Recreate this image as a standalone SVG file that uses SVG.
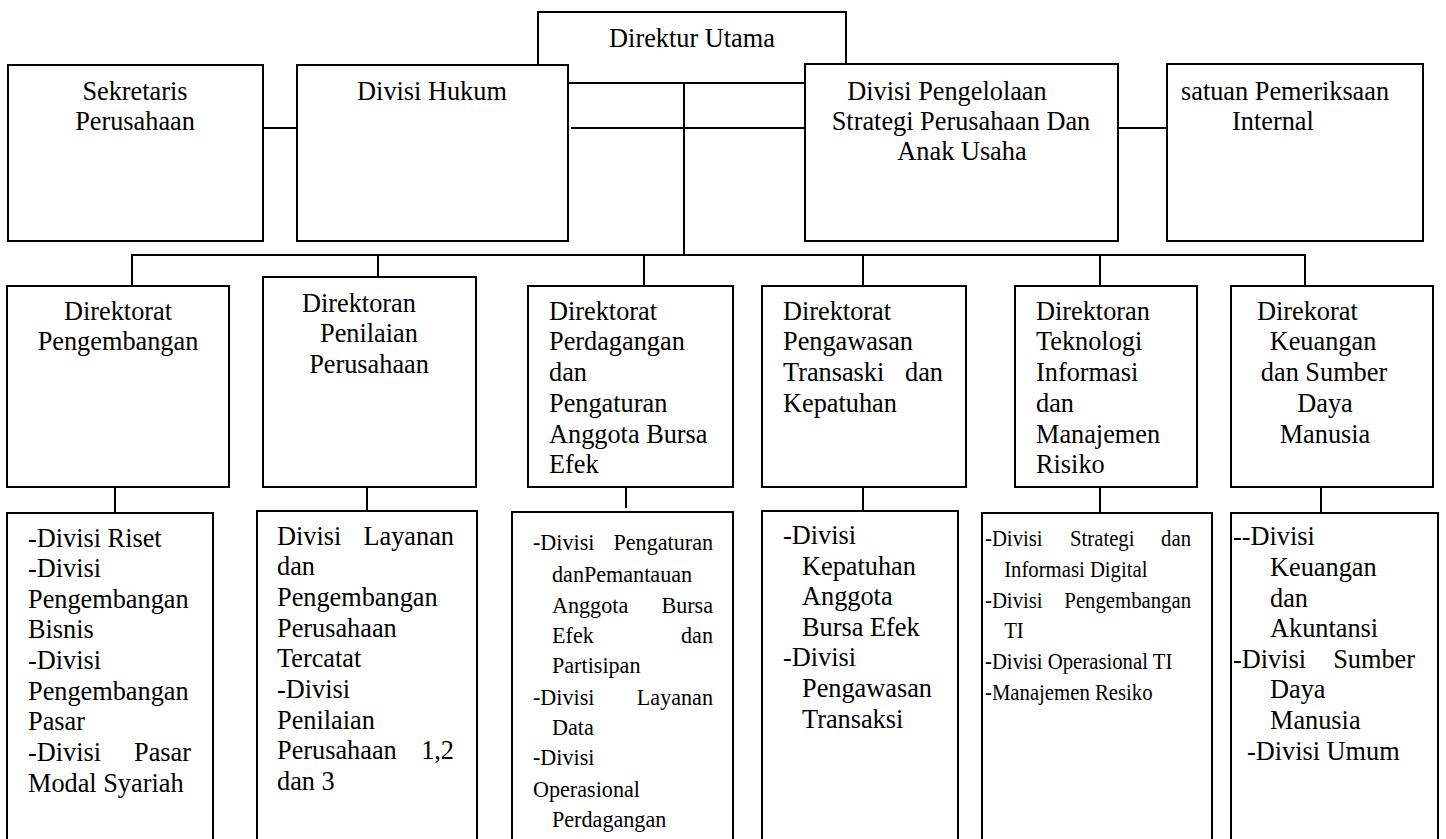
<svg xmlns="http://www.w3.org/2000/svg" width="1446" height="839" viewBox="0 0 1446 839">
<style>
rect.box { fill: #fff; stroke: #000; stroke-width: 2; }
line { stroke: #000; stroke-width: 2; }
text { font-family: "Liberation Serif", "Times New Roman", serif; font-size: 26.3px; fill: #000; }
text.c { font-size: 23.3px; }
.m { text-anchor: middle; }
.e { text-anchor: end; }
</style>
<rect width="1446" height="839" fill="#fff"/>

<g id="direktur-utama">
  <rect class="box" x="538" y="12" width="308" height="71"/>
  <text class="m" x="692" y="47">Direktur Utama</text>
</g>

<g id="connectors">
  <line x1="256" y1="128" x2="298" y2="128"/>
  <line x1="571" y1="128" x2="805" y2="128"/>
  <line x1="1118" y1="128" x2="1167" y2="128"/>
  <line x1="684" y1="83" x2="684" y2="256"/>
  <line x1="131" y1="255" x2="1306" y2="255"/>
  <line x1="132" y1="255" x2="132" y2="286"/>
  <line x1="378" y1="255" x2="378" y2="285"/>
  <line x1="644" y1="255" x2="644" y2="286"/>
  <line x1="863" y1="255" x2="863" y2="286"/>
  <line x1="1100" y1="255" x2="1100" y2="286"/>
  <line x1="1305" y1="254" x2="1305" y2="286"/>
  <line x1="115" y1="487" x2="115" y2="513"/>
  <line x1="367" y1="474" x2="367" y2="511"/>
  <line x1="626" y1="482" x2="626" y2="508"/>
  <line x1="863" y1="487" x2="863" y2="511"/>
  <line x1="1100" y1="487" x2="1100" y2="513"/>
  <line x1="1321" y1="487" x2="1321" y2="513"/>
</g>

<g id="sekretaris-perusahaan">
  <rect class="box" x="8" y="65" width="255" height="176"/>
  <text class="m"><tspan x="135" y="100">Sekretaris</tspan><tspan x="135" y="130">Perusahaan</tspan></text>
</g>

<g id="divisi-hukum">
  <rect class="box" x="297" y="65" width="271" height="176"/>
  <text class="m" x="432" y="100">Divisi Hukum</text>
</g>

<g id="divisi-pengelolaan">
  <rect class="box" x="805" y="64" width="313" height="177"/>
  <text class="m" x="947" y="100">Divisi Pengelolaan</text>
  <text class="m"><tspan x="961" y="130">Strategi Perusahaan Dan</tspan><tspan x="962" y="160">Anak Usaha</tspan></text>
</g>

<g id="satuan-pemeriksaan">
  <rect class="box" x="1167" y="64" width="256" height="177"/>
  <text><tspan x="1181" y="100">satuan Pemeriksaan</tspan><tspan x="1232" y="130">Internal</tspan></text>
</g>

<g id="dir-pengembangan">
  <rect class="box" x="7" y="286" width="222" height="201"/>
  <text class="m"><tspan x="118" y="320">Direktorat</tspan><tspan x="118" y="350">Pengembangan</tspan></text>
</g>

<g id="dir-penilaian">
  <rect class="box" x="263" y="277" width="213" height="210"/>
  <text x="302" y="312">Direktoran</text>
  <text class="m"><tspan x="369" y="342">Penilaian</tspan><tspan x="369" y="373">Perusahaan</tspan></text>
</g>

<g id="dir-perdagangan">
  <rect class="box" x="528" y="286" width="205" height="201"/>
  <text><tspan x="549" y="320">Direktorat</tspan><tspan x="549" y="350">Perdagangan</tspan><tspan x="549" y="381">dan</tspan><tspan x="549" y="412">Pengaturan</tspan><tspan x="549" y="443">Anggota Bursa</tspan><tspan x="549" y="473">Efek</tspan></text>
</g>

<g id="dir-pengawasan">
  <rect class="box" x="762" y="286" width="204" height="201"/>
  <text><tspan x="783" y="320">Direktorat</tspan><tspan x="783" y="350">Pengawasan</tspan><tspan x="783" y="381">Transaski</tspan><tspan x="783" y="412">Kepatuhan</tspan></text>
  <text class="e" x="943" y="381">dan</text>
</g>

<g id="dir-teknologi">
  <rect class="box" x="1015" y="286" width="182" height="201"/>
  <text><tspan x="1036" y="320">Direktoran</tspan><tspan x="1036" y="350">Teknologi</tspan><tspan x="1036" y="381">Informasi</tspan><tspan x="1036" y="412">dan</tspan><tspan x="1036" y="443">Manajemen</tspan><tspan x="1036" y="473">Risiko</tspan></text>
</g>

<g id="dir-keuangan">
  <rect class="box" x="1231" y="286" width="202" height="201"/>
  <text x="1257" y="320">Direkorat</text>
  <text class="m"><tspan x="1323" y="350">Keuangan</tspan><tspan x="1324" y="381">dan Sumber</tspan><tspan x="1325" y="412">Daya</tspan><tspan x="1325" y="443">Manusia</tspan></text>
</g>

<g id="div-pengembangan">
  <rect class="box" x="7" y="513" width="206" height="340"/>
  <text><tspan x="28" y="547">-Divisi Riset</tspan><tspan x="28" y="577">-Divisi</tspan><tspan x="28" y="608">Pengembangan</tspan><tspan x="28" y="638">Bisnis</tspan><tspan x="28" y="669">-Divisi</tspan><tspan x="28" y="700">Pengembangan</tspan><tspan x="28" y="730">Pasar</tspan><tspan x="28" y="761">-Divisi</tspan><tspan x="28" y="792">Modal Syariah</tspan></text>
  <text class="e" x="191" y="761">Pasar</text>
</g>

<g id="div-penilaian">
  <rect class="box" x="257" y="511" width="220" height="342"/>
  <text><tspan x="277" y="545">Divisi</tspan><tspan x="277" y="575">dan</tspan><tspan x="277" y="606">Pengembangan</tspan><tspan x="277" y="637">Perusahaan</tspan><tspan x="277" y="667">Tercatat</tspan><tspan x="277" y="698">-Divisi</tspan><tspan x="277" y="729">Penilaian</tspan><tspan x="277" y="759">Perusahaan</tspan><tspan x="277" y="790">dan 3</tspan></text>
  <text class="e"><tspan x="454" y="545">Layanan</tspan><tspan x="454" y="759">1,2</tspan></text>
</g>

<g id="div-perdagangan">
  <rect class="box" x="512" y="512" width="221" height="341"/>
  <text class="c" transform="matrix(0.95,0,0,1,533,0)"><tspan x="0" y="550">-Divisi</tspan><tspan x="20" y="582">danPemantauan</tspan><tspan x="20" y="613">Anggota</tspan><tspan x="20" y="643">Efek</tspan><tspan x="20" y="673">Partisipan</tspan><tspan x="0" y="705">-Divisi</tspan><tspan x="20" y="735">Data</tspan><tspan x="0" y="765">-Divisi</tspan><tspan x="0" y="797">Operasional</tspan><tspan x="20" y="827">Perdagangan</tspan></text>
  <text class="c e" transform="matrix(0.95,0,0,1,533,0)"><tspan x="189.5" y="550">Pengaturan</tspan><tspan x="189.5" y="613">Bursa</tspan><tspan x="189.5" y="643">dan</tspan><tspan x="189.5" y="705">Layanan</tspan></text>
</g>

<g id="div-pengawasan">
  <rect class="box" x="762" y="511" width="196" height="342"/>
  <text><tspan x="783" y="544">-Divisi</tspan><tspan x="802" y="575">Kepatuhan</tspan><tspan x="802" y="605">Anggota</tspan><tspan x="802" y="636">Bursa Efek</tspan><tspan x="783" y="666">-Divisi</tspan><tspan x="802" y="697">Pengawasan</tspan><tspan x="802" y="728">Transaksi</tspan></text>
</g>

<g id="div-teknologi">
  <rect class="box" x="982" y="513" width="230" height="340"/>
  <text class="c" transform="matrix(0.89,0,0,1,985,0)"><tspan x="0" y="546">-Divisi</tspan><tspan x="95.5" y="546">Strategi</tspan><tspan x="21.5" y="577">Informasi Digital</tspan><tspan x="0" y="608">-Divisi</tspan><tspan x="21.5" y="638">TI</tspan><tspan x="0" y="669">-Divisi Operasional TI</tspan><tspan x="0" y="700">-Manajemen Resiko</tspan></text>
  <text class="c e" transform="matrix(0.89,0,0,1,985,0)"><tspan x="231.5" y="546">dan</tspan><tspan x="231.5" y="608">Pengembangan</tspan></text>
</g>

<g id="div-keuangan">
  <rect class="box" x="1231" y="513" width="207" height="340"/>
  <text><tspan x="1233" y="545">--Divisi</tspan><tspan x="1270" y="576">Keuangan</tspan><tspan x="1270" y="607">dan</tspan><tspan x="1270" y="637">Akuntansi</tspan><tspan x="1233" y="668">-Divisi</tspan><tspan x="1270" y="698">Daya</tspan><tspan x="1270" y="729">Manusia</tspan><tspan x="1247" y="760">-Divisi Umum</tspan></text>
  <text class="e" x="1415" y="668">Sumber</text>
</g>
</svg>
